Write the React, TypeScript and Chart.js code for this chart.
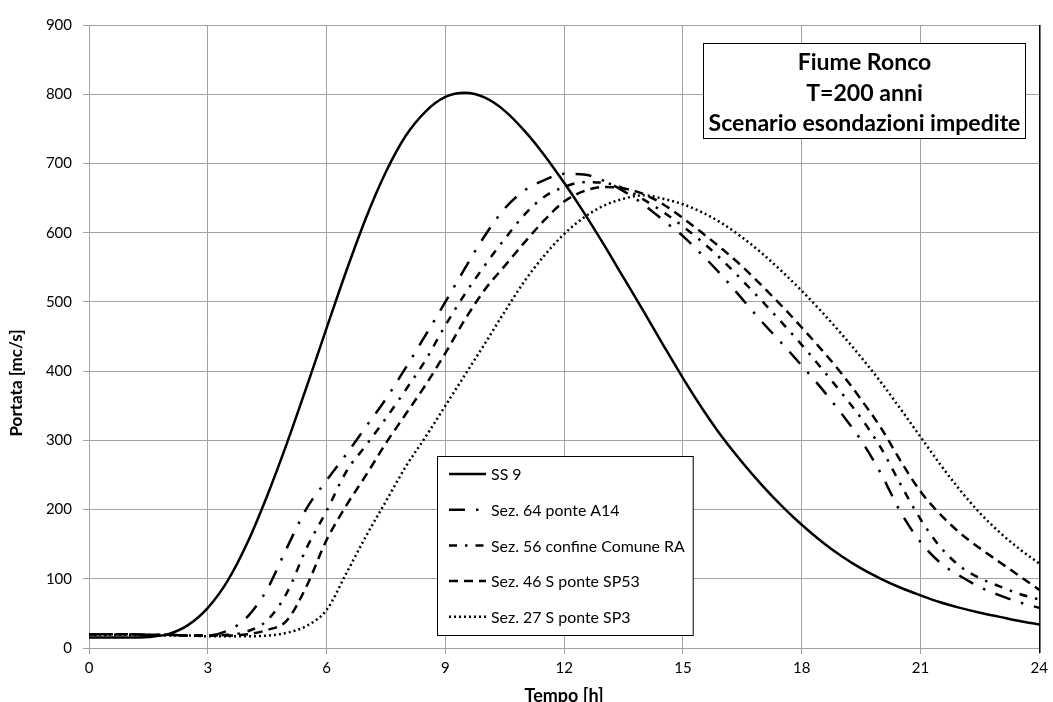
import React, { useEffect, useRef } from "react";
import { Chart, registerables } from "chart.js";

Chart.register(...registerables);

// ---------- DATA ----------
const TIMES = [
  0, 0.5, 1, 1.5, 2, 2.5, 3, 3.5, 4, 4.5,
  5, 5.5, 6, 6.5, 7, 7.5, 8, 8.5, 9, 9.5,
  10, 10.5, 11, 11.5, 12, 12.5, 13, 13.5, 14, 14.5,
  15, 15.5, 16, 16.5, 17, 17.5, 18, 18.5, 19, 19.5,
  20, 20.5, 21, 21.5, 22, 22.5, 23, 23.5, 24,
];

const SS9 = [
  15, 15, 15, 16, 20, 33, 58, 97, 152, 220,
  296, 378, 462, 545, 622, 688, 740, 775, 796, 802,
  795, 776, 747, 712, 672, 629, 583, 535, 487, 438,
  390, 345, 304, 268, 235, 205, 178, 154, 133, 115,
  100, 87, 76, 66, 58, 51, 45, 39, 34,
];

const SEZ64_A14 = [
  20, 20, 20, 19, 19, 18, 18, 25, 45, 85,
  145, 202, 242, 280, 320, 360, 405, 452, 500, 549,
  596, 635, 661, 676, 685, 684, 675, 660, 641, 618,
  595, 567, 537, 504, 471, 440, 408, 375, 339, 300,
  252, 196, 153, 123, 104, 88, 76, 66, 58,
];

const SEZ56_RA = [
  20, 20, 20, 19, 19, 18, 18, 19, 24, 40,
  80, 145, 198, 255, 293, 332, 373, 416, 466, 512,
  553, 591, 626, 652, 666, 673, 672, 664, 648, 630,
  609, 586, 560, 531, 501, 470, 438, 404, 369, 332,
  289, 236, 186, 146, 118, 101, 89, 78, 70,
];

const SEZ46_SP53 = [
  20, 20, 20, 19, 19, 18, 18, 18, 20, 26,
  40, 90, 156, 206, 250, 296, 338, 380, 426, 475,
  518, 552, 586, 618, 645, 660, 666, 664, 656, 641,
  621, 599, 576, 551, 523, 494, 463, 431, 397, 359,
  318, 270, 226, 193, 166, 144, 124, 104, 84,
];

const SEZ27_SP3 = [
  19, 19, 19, 18, 18, 18, 17, 17, 17, 18,
  22, 32, 55, 108, 162, 212, 262, 305, 350, 395,
  440, 486, 530, 567, 598, 622, 639, 649, 654, 649,
  641, 629, 613, 593, 570, 544, 516, 486, 454, 420,
  384, 345, 305, 265, 228, 195, 167, 143, 122,
];

const SERIES_LABELS = [
  "SS 9",
  "Sez. 64 ponte A14",
  "Sez. 56 confine Comune RA",
  "Sez. 46 S ponte SP53",
  "Sez. 27 S ponte SP3",
];

const TITLE_LINES = ["Fiume Ronco", "T=200 anni", "Scenario esondazioni impedite"];
const X_TITLE = "Tempo [h]";
const Y_TITLE = "Portata [mc/s]";

// ---------- STYLE ----------
const FONT = "Lato, 'Open Sans', 'DejaVu Sans', sans-serif";
const GRID = "#a3a3a3";
const SERIES_DASH = [[], [16, 11, 2.5, 11], [8, 8, 2.5, 8], [9, 6], [2, 3]];
const SERIES_WIDTH = [2.5, 2.5, 2.5, 2.5, 2.5];

function fitSize(ctx: CanvasRenderingContext2D, text: string, target: number, weight: string) {
  ctx.font = `${weight} 20px ${FONT}`;
  const w = ctx.measureText(text).width;
  return (20 * target) / w;
}

const boxesPlugin = {
  id: "boxesPlugin",
  afterDraw(chart: any) {
    const ctx: CanvasRenderingContext2D = chart.ctx;
    ctx.save();
    // y axis title (rotated)
    const ys = fitSize(ctx, Y_TITLE, 107, "bold");
    ctx.font = `bold ${ys.toFixed(2)}px ${FONT}`;
    ctx.fillStyle = "#000";
    ctx.translate(17, 383);
    ctx.rotate(-Math.PI / 2);
    ctx.textAlign = "center";
    ctx.textBaseline = "middle";
    ctx.fillText(Y_TITLE, 0, 0);
    ctx.restore();
  },
  afterDatasetsDraw(chart: any) {
    const ctx: CanvasRenderingContext2D = chart.ctx;
    const { top, bottom, right } = chart.chartArea;
    ctx.save();

    // black right border of plot
    ctx.strokeStyle = "#000";
    ctx.lineWidth = 1.5;
    ctx.beginPath();
    ctx.moveTo(right + 0.5, top);
    ctx.lineTo(right + 0.5, bottom + 5);
    ctx.stroke();

    // title box
    const bx = 703.5, by = 43.5, bw = 322, bh = 95;
    ctx.fillStyle = "#fff";
    ctx.fillRect(bx, by, bw, bh);
    ctx.strokeStyle = "#000";
    ctx.lineWidth = 1;
    ctx.strokeRect(bx, by, bw, bh);
    const fs = fitSize(ctx, TITLE_LINES[2], 312, "bold");
    ctx.font = `bold ${fs.toFixed(2)}px ${FONT}`;
    ctx.fillStyle = "#000";
    ctx.textAlign = "center";
    ctx.textBaseline = "middle";
    const lineYs = [63, 94, 124];
    TITLE_LINES.forEach((t, i) => ctx.fillText(t, bx + bw / 2, lineYs[i]));

    // legend box
    const ls = fitSize(ctx, "Sez. 56 confine Comune", 169, "normal");
    ctx.font = `${ls.toFixed(2)}px ${FONT}`;
    let maxW = 0;
    chart.data.datasets.forEach((d: any) => {
      maxW = Math.max(maxW, ctx.measureText(d.label).width);
    });
    const lx = 437.5, ly = 456.5, lh = 179;
    const lw = 54 + maxW + 8;
    ctx.fillStyle = "#fff";
    ctx.fillRect(lx, ly, lw, lh);
    ctx.strokeStyle = "#000";
    ctx.lineWidth = 1;
    ctx.strokeRect(lx, ly, lw, lh);
    chart.data.datasets.forEach((d: any, i: number) => {
      const yy = 474 + i * 35.7;
      ctx.save();
      ctx.strokeStyle = "#000";
      ctx.lineWidth = d.borderWidth;
      ctx.setLineDash(d.borderDash || []);
      ctx.beginPath();
      ctx.moveTo(449, yy);
      ctx.lineTo(486, yy);
      ctx.stroke();
      ctx.restore();
      ctx.fillStyle = "#000";
      ctx.textAlign = "left";
      ctx.textBaseline = "middle";
      ctx.fillText(d.label, 491, yy + 1);
    });

    ctx.restore();
  },
};

export default function App() {
  const canvasRef = useRef<HTMLCanvasElement | null>(null);

  useEffect(() => {
    document.body.style.margin = "0";
    const canvas = canvasRef.current;
    if (!canvas) return;
    const seriesValues = [SS9, SEZ64_A14, SEZ56_RA, SEZ46_SP53, SEZ27_SP3];
    const datasets = seriesValues.map((vals, i) => ({
      label: SERIES_LABELS[i],
      data: TIMES.map((t, k) => ({ x: t, y: vals[k] })),
      borderColor: "#000",
      backgroundColor: "#000",
      borderWidth: SERIES_WIDTH[i],
      borderDash: SERIES_DASH[i],
      pointRadius: 0,
      fill: false,
      cubicInterpolationMode: "monotone" as const,
      borderCapStyle: "butt" as const,
    }));

    const chart = new Chart(canvas, {
      type: "line",
      data: { datasets },
      options: {
        responsive: false,
        animation: false,
        layout: { padding: { left: 0, top: 25, right: 11, bottom: 0 } },
        plugins: {
          legend: { display: false },
          tooltip: { enabled: false },
        },
        scales: {
          x: {
            type: "linear",
            min: 0,
            max: 24,
            ticks: {
              stepSize: 3,
              color: "#000",
              padding: 5,
              font: { family: FONT, size: 15 },
              maxRotation: 0,
            },
            grid: { color: GRID, lineWidth: 1, tickLength: 6 },
            border: { color: GRID, width: 1 },
            title: {
              display: true,
              text: X_TITLE,
              color: "#000",
              font: { family: FONT, size: 18, weight: "bold" },
              padding: { top: 0, bottom: -5 },
            },
            afterFit: (s: any) => {
              s.height = 54;
            },
          },
          y: {
            type: "linear",
            min: 0,
            max: 900,
            ticks: {
              stepSize: 100,
              color: "#000",
              padding: 11,
              font: { family: FONT, size: 15 },
            },
            grid: { color: GRID, lineWidth: 1, tickLength: 6 },
            border: { color: GRID, width: 1 },
            title: { display: false, text: Y_TITLE },
            afterFit: (s: any) => {
              s.width = 89;
            },
          },
        },
      },
      plugins: [boxesPlugin],
    });

    if ((document as any).fonts) {
      Promise.all([
        (document as any).fonts.load(`15px Lato`),
        (document as any).fonts.load(`bold 15px Lato`),
      ]).then(() => chart.update()).catch(() => {});
    }

    return () => chart.destroy();
  }, []);

  return (
    <div style={{ position: "absolute", left: 0, top: 0, width: 1053, height: 702, background: "#fff" }}>
      <canvas ref={canvasRef} width={1053} height={702} style={{ display: "block" }} />
    </div>
  );
}
